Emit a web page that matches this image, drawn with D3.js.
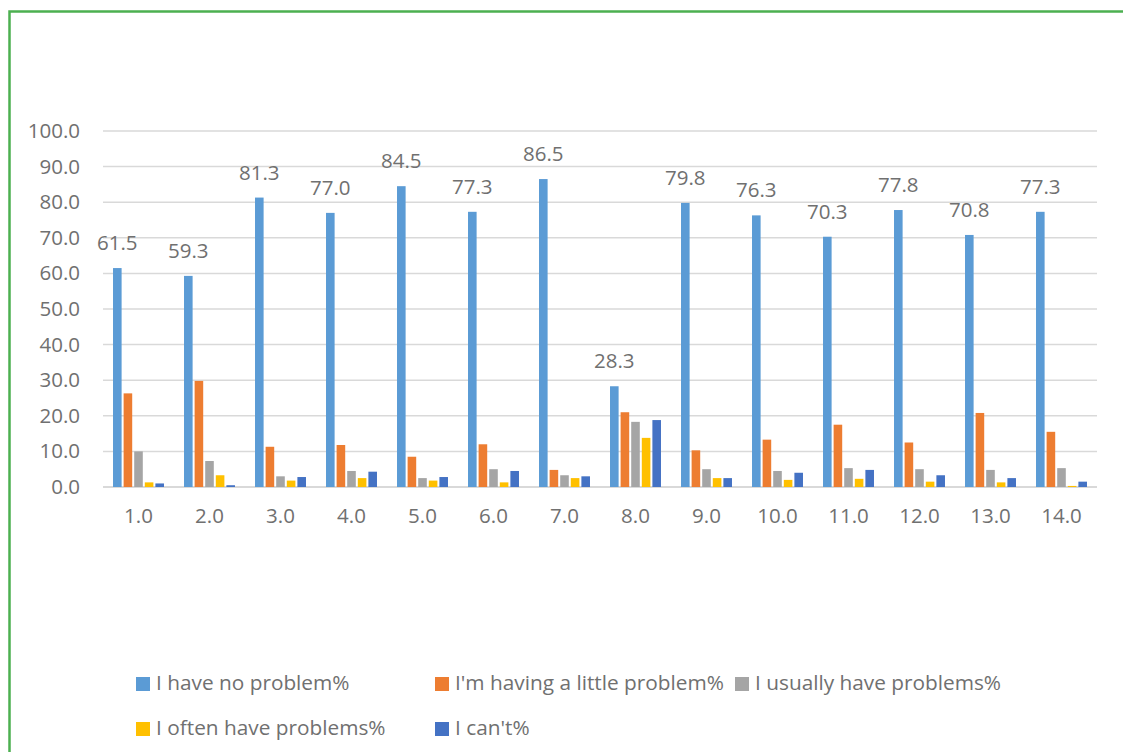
<!DOCTYPE html>
<html>
<head>
<meta charset="utf-8">
<script src="https://cdn.jsdelivr.net/npm/d3@7"></script>
<style>
  html, body { margin: 0; padding: 0; background: #fff; }
  svg { display: block; }
  text { font-family: "Open Sans", sans-serif; fill: #707070; }
</style>
</head>
<body>
<svg id="chart" width="1123" height="752"></svg>
<script>
// Survey item numbers on the x axis
const categories = ["1.0","2.0","3.0","4.0","5.0","6.0","7.0","8.0","9.0","10.0","11.0","12.0","13.0","14.0"];

const seriesNames = [
  "I have no problem%",
  "I'm having a little problem%",
  "I usually have problems%",
  "I often have problems%",
  "I can't%"
];

const noProblem     = [61.5, 59.3, 81.3, 77.0, 84.5, 77.3, 86.5, 28.3, 79.8, 76.3, 70.3, 77.8, 70.8, 77.3];
const littleProblem = [26.3, 29.8, 11.3, 11.8,  8.5, 12.0,  4.8, 21.0, 10.3, 13.3, 17.5, 12.5, 20.8, 15.5];
const usuallyProb   = [10.0,  7.3,  3.0,  4.5,  2.5,  5.0,  3.3, 18.3,  5.0,  4.5,  5.3,  5.0,  4.8,  5.3];
const oftenProb     = [ 1.3,  3.3,  1.8,  2.5,  1.8,  1.3,  2.5, 13.8,  2.5,  2.0,  2.3,  1.5,  1.3,  0.3];
const cannot        = [ 1.0,  0.5,  2.8,  4.3,  2.8,  4.5,  3.0, 18.8,  2.5,  4.0,  4.8,  3.3,  2.5,  1.5];

const seriesValues = [noProblem, littleProblem, usuallyProb, oftenProb, cannot];
const colors = ["#5B9BD5", "#ED7D31", "#A5A5A5", "#FFC000", "#4472C4"];
const yTicks = [0, 10, 20, 30, 40, 50, 60, 70, 80, 90, 100];

const textColor = "#707070";
const svg = d3.select("#chart");

// Outer frame
svg.append("rect")
  .attr("x", 9.5).attr("y", 11.5)
  .attr("width", 1140).attr("height", 780)
  .attr("fill", "none")
  .attr("stroke", "#4CB050")
  .attr("stroke-width", 2.5);

const plot = { left: 103, right: 1097, top: 131, bottom: 487 };

const x = d3.scaleBand()
  .domain(categories)
  .range([plot.left, plot.right])
  .paddingInner(0.254)
  .paddingOuter(0.127);

const xs = d3.scaleBand()
  .domain(seriesNames)
  .range([0, x.bandwidth()]);

const y = d3.scaleLinear().domain([0, 100]).range([plot.bottom, plot.top]);

// Horizontal gridlines
svg.append("g")
  .selectAll("line")
  .data(yTicks)
  .join("line")
  .attr("x1", plot.left).attr("x2", plot.right)
  .attr("y1", d => y(d)).attr("y2", d => y(d))
  .attr("stroke", "#D9D9D9")
  .attr("stroke-width", d => d === 0 ? 2 : 1.5);

// Y axis labels
const yAxis = d3.axisLeft(y).tickValues(yTicks).tickFormat(d3.format(".1f")).tickSize(0).tickPadding(0);
svg.append("g")
  .attr("transform", `translate(80,0)`)
  .call(yAxis)
  .call(g => g.select(".domain").remove())
  .call(g => g.selectAll("text")
    .attr("font-size", 20.5)
    .attr("fill", textColor)
    .style("font-family", "'Open Sans', sans-serif"));

// X axis labels
const xAxis = d3.axisBottom(x).tickSize(0).tickPadding(0);
svg.append("g")
  .attr("transform", `translate(0,518)`)
  .call(xAxis)
  .call(g => g.select(".domain").remove())
  .call(g => g.selectAll("text")
    .attr("font-size", 20.5)
    .attr("fill", textColor)
    .attr("dy", null)
    .attr("y", 0)
    .attr("dominant-baseline", "middle")
    .style("font-family", "'Open Sans', sans-serif"));

// Bars
const groups = svg.append("g")
  .selectAll("g")
  .data(categories)
  .join("g")
  .attr("transform", d => `translate(${x(d)},0)`);

groups.selectAll("rect")
  .data((c, i) => seriesNames.map((s, k) => ({ s, k, v: seriesValues[k][i] })))
  .join("rect")
  .attr("x", d => xs(d.s) + 1)
  .attr("width", xs.bandwidth() - 2)
  .attr("y", d => y(d.v))
  .attr("height", d => y(0) - y(d.v))
  .attr("fill", d => colors[d.k]);

// Value labels on the first series
svg.append("g")
  .selectAll("text")
  .data(categories)
  .join("text")
  .attr("x", (c, i) => x(c) + xs(seriesNames[0]) + xs.bandwidth() / 2)
  .attr("y", (c, i) => y(noProblem[i]) - 18)
  .attr("text-anchor", "middle")
  .attr("font-size", 20.5)
  .text((c, i) => d3.format(".1f")(noProblem[i]));

// Legend
const legendPos = [
  { x: 136, y: 684 },
  { x: 435, y: 684 },
  { x: 735, y: 684 },
  { x: 136, y: 729 },
  { x: 435, y: 729 }
];
const legend = svg.append("g")
  .selectAll("g")
  .data(seriesNames)
  .join("g")
  .attr("transform", (d, i) => `translate(${legendPos[i].x},${legendPos[i].y})`);

legend.append("rect")
  .attr("x", 0).attr("y", -7)
  .attr("width", 14).attr("height", 14)
  .attr("fill", (d, i) => colors[i]);

legend.append("text")
  .attr("x", 20)
  .attr("y", 0)
  .attr("dominant-baseline", "middle")
  .attr("font-size", 20.8)
  .text(d => d);
</script>
</body>
</html>
